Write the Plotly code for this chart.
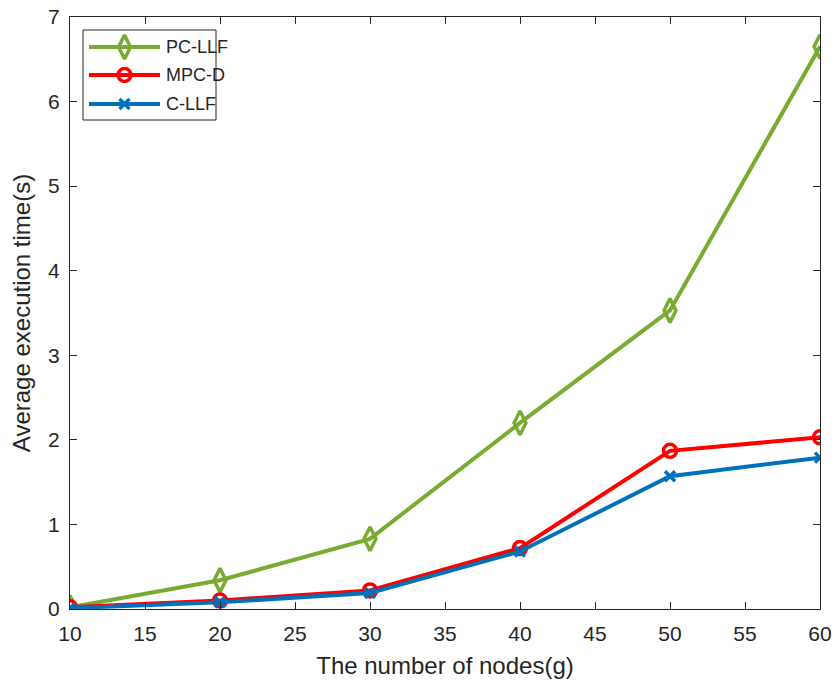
import plotly.graph_objects as go

nodes = [10, 20, 30, 40, 50, 60]
pc_llf = [0.02, 0.34, 0.83, 2.20, 3.53, 6.65]
mpc_d = [0.02, 0.10, 0.22, 0.72, 1.87, 2.03]
c_llf = [0.01, 0.08, 0.19, 0.68, 1.57, 1.79]

series_names = ["PC-LLF", "MPC-D", "C-LLF"]
x_ticks = [10, 15, 20, 25, 30, 35, 40, 45, 50, 55, 60]
y_ticks = [0, 1, 2, 3, 4, 5, 6, 7]

FONT = "Liberation Sans, Arial, Helvetica"
INK = "#262626"
W, H = 836, 685
ML, MR, MT, MB = 70, 16, 17, 76

styles = [
    dict(color="#77AC30", symbol="diamond-tall-open", size=17),
    dict(color="#FF0000", symbol="circle-open", size=13),
    dict(color="#0072BD", symbol="x-thin-open", size=10),
]

fig = go.Figure()
for name, vals, st in zip(series_names, [pc_llf, mpc_d, c_llf], styles):
    fig.add_trace(go.Scatter(
        x=nodes, y=vals, name=name, mode="lines+markers", showlegend=False,
        line=dict(color=st["color"], width=4),
        marker=dict(symbol=st["symbol"], size=st["size"], color=st["color"],
                    line=dict(color=st["color"], width=3.5)),
    ))

# Boxed legend in the upper-left corner, laid out in pixel units on an
# overlay axis pair spanning the plotting area.
leg_box = dict(x0=83, x1=216, y0=30, y1=120)
leg_rows = [47, 75, 104]
leg_line = (89, 160)
leg_text_x = 164

for name, st, ry in zip(series_names, styles, leg_rows):
    fig.add_trace(go.Scatter(
        x=list(leg_line), y=[ry, ry], mode="lines", xaxis="x2", yaxis="y2",
        line=dict(color=st["color"], width=4), showlegend=False, hoverinfo="skip",
    ))
    fig.add_trace(go.Scatter(
        x=[sum(leg_line) / 2], y=[ry], mode="markers", xaxis="x2", yaxis="y2",
        marker=dict(symbol=st["symbol"], size=st["size"], color=st["color"],
                    line=dict(color=st["color"], width=3.5)),
        showlegend=False, hoverinfo="skip",
    ))
    fig.add_annotation(
        x=leg_text_x, y=ry, xref="x2", yref="y2", text=name, showarrow=False,
        xanchor="left", yanchor="middle",
        font=dict(family=FONT, size=18, color=INK),
    )

fig.add_shape(
    type="rect", xref="x2", yref="y2", layer="below",
    line=dict(color=INK, width=1), fillcolor="white", **leg_box,
)

axis_common = dict(
    showline=True, linecolor=INK, linewidth=1, mirror="ticks",
    ticks="inside", ticklen=7, tickcolor=INK, tickwidth=1,
    showgrid=False, zeroline=False, automargin=False,
    tickfont=dict(family=FONT, size=21, color=INK),
)

fig.update_layout(
    width=W, height=H,
    margin=dict(l=ML, r=MR, t=MT, b=MB, autoexpand=False),
    paper_bgcolor="white", plot_bgcolor="white",
    font=dict(family=FONT, color=INK),
    showlegend=False,
    xaxis=dict(range=[10, 60], tickvals=x_ticks, ticklabelstandoff=6,
               title=dict(text="The number of nodes(g)",
                          font=dict(size=24, color=INK), standoff=12),
               **axis_common),
    yaxis=dict(range=[0, 7], tickvals=y_ticks, ticklabelstandoff=5,
               title=dict(text="Average execution time(s)",
                          font=dict(size=24, color=INK), standoff=10),
               **axis_common),
    xaxis2=dict(overlaying="x", range=[ML, W - MR], visible=False, fixedrange=True),
    yaxis2=dict(overlaying="y", range=[H - MB, MT], visible=False, fixedrange=True),
)

fig.write_html("out.html")
